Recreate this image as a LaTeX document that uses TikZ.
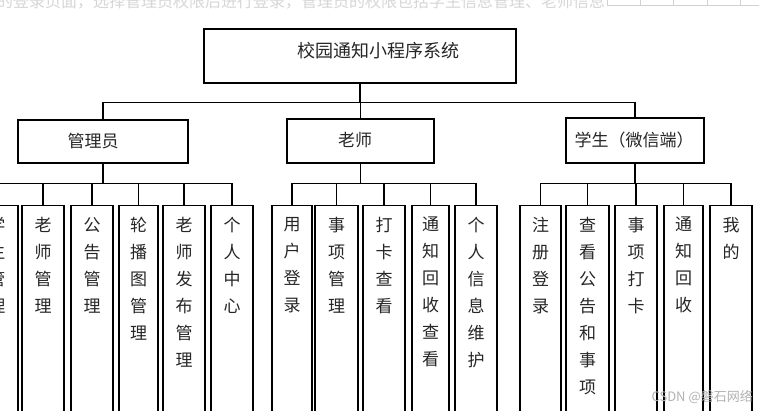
\documentclass[tikz,border=0pt]{standalone}
\usepackage{fontspec}
\newfontfamily\cjk{Noto Sans CJK SC}
\begin{document}
\begin{tikzpicture}[x=1pt,y=-1pt,
  box/.style={draw=black, line width=1.1pt, inner sep=0pt, fill=none},
  lbl/.style={font=\cjk\fontsize{17}{27}\selectfont, inner sep=0pt, text=black!85},
  ttl/.style={font=\cjk\fontsize{18}{22}\selectfont, inner sep=0pt, text=black!85},
  leaftext/.style={font=\cjk\fontsize{17}{27}\selectfont, inner sep=0pt, align=center, anchor=north, text=black!85},
  conn/.style={draw=black, line width=1.1pt},
  faded/.style={font=\cjk\fontsize{16}{20}\selectfont, inner sep=0pt, text=black!16},
  wmark/.style={font=\cjk\fontsize{13}{16}\selectfont, inner sep=0pt, text=black!30}]
\useasboundingbox (0,0) rectangle (759,411);
\clip (0,0) rectangle (759,411);
\fill[white] (0,0) rectangle (759,411);

% faded remnants at the top
\node[faded, anchor=base west] (topline) at (-3,8) {的登录页面，选择管理员权限后进行登录，管理员的权限包括学生信息管理、老师信息};
\coordinate (tl0) at (607,5);
\coordinate (tl1) at (759,5);
\draw[black!18, line width=0.7pt] (tl0) -- (tl1);
\foreach \xx in {607,640,673,707,740}{\draw[black!18, line width=0.7pt] (\xx,5) -- (\xx,0);}

% top level
\node[box, minimum width=312, minimum height=54] (root) at (360,56) {};
\node[ttl] (roott) at (378,51) {校园通知小程序系统};

% second level
\node[box, minimum width=170, minimum height=43] (adm) at (103,141.5) {};
\node[lbl] (admt) at (93,141) {管理员};
\node[box, minimum width=147, minimum height=44] (tea) at (360.5,141) {};
\node[lbl] (teat) at (355,140) {老师};
\node[box, minimum width=138, minimum height=45] (stu) at (635,140.5) {};
\node[lbl] (stut) at (634,140) {学生（微信端）};

\coordinate (bar1) at (0,102.5);
\coordinate (bar2) at (0,183.5);

\draw[conn] (root.south) -- (root.south |- bar1);
\foreach \c in {adm,tea,stu}{\draw[conn] (root.south |- bar1) -| (\c.north);}

% leaves
\newcommand\leafbox[4]{%
  \node[box, anchor=north, minimum width={#3-#2}, minimum height=215] (#1) at ({(#2+#3)/2},205) {};
  \node[leaftext] (#1t) at ([yshift=-12pt]#1.north) {#4};
}
\leafbox{a0}{-24}{18}{学\\生\\管\\理}
\leafbox{a1}{22}{64}{老\\师\\管\\理}
\leafbox{a2}{71}{113}{公\\告\\管\\理}
\leafbox{a3}{119}{158}{轮\\播\\图\\管\\理}
\leafbox{a4}{163}{205}{老\\师\\发\\布\\管\\理}
\leafbox{a5}{211}{253}{个\\人\\中\\心}
\leafbox{t1}{272}{312}{用\\户\\登\\录}
\leafbox{t2}{315}{358}{事\\项\\管\\理}
\leafbox{t3}{363}{405}{打\\卡\\查\\看}
\leafbox{t4}{412}{449}{通\\知\\回\\收\\查\\看}
\leafbox{t5}{455}{497}{个\\人\\信\\息\\维\\护}
\leafbox{s1}{520}{561}{注\\册\\登\\录}
\leafbox{s2}{566}{609}{查\\看\\公\\告\\和\\事\\项}
\leafbox{s3}{615}{657}{事\\项\\打\\卡}
\leafbox{s4}{664}{703}{通\\知\\回\\收}
\leafbox{s5}{710}{752}{我\\的}

\draw[conn] (adm.south) -- (adm.south |- bar2);
\foreach \c in {a0,a1,a2,a3,a4,a5}{\draw[conn] (adm.south |- bar2) -| (\c.north);}
\draw[conn] (tea.south) -- (tea.south |- bar2);
\foreach \c in {t1,t2,t3,t4,t5}{\draw[conn] (tea.south |- bar2) -| (\c.north);}
\draw[conn] (stu.south) -- (stu.south |- bar2);
\foreach \c in {s1,s2,s3,s4,s5}{\draw[conn] (stu.south |- bar2) -| (\c.north);}

% watermark
\node[wmark, anchor=east] (wm) at (753,397) {CSDN @磐石网络};
\end{tikzpicture}
\end{document}
